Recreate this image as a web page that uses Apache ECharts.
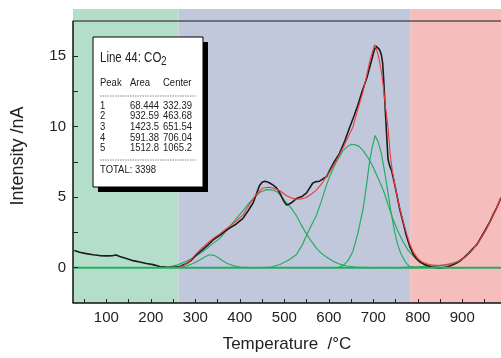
<!DOCTYPE html>
<html><head><meta charset="utf-8">
<script src="https://cdn.jsdelivr.net/npm/echarts@6/dist/echarts.min.js"></script>
<style>html,body{margin:0;padding:0;background:#fff}#c{width:501px;height:358px}</style>
</head><body><div id="c"></div>
<script>
// ---- axis / tick values ----
const xRange = [25, 987];
const yRange = [-2.5, 18.33];
const xLabelValues = [100, 200, 300, 400, 500, 600, 700, 800, 900];
const xTickValues = [50, 100, 150, 200, 250, 300, 350, 400, 450, 500, 550, 600, 650, 700, 750, 800, 850, 900, 950];
const yLabelValues = [0, 5, 10, 15];
const yTickValues = [0, 2.5, 5, 7.5, 10, 12.5, 15];
const frameTop = 17.5;
// temperature regions (green / blue / red backgrounds)
const regionEdges = [25, 262, 783, 987];

// ---- measured signal (black) ----
const measured = [
 [28,1.22],[40,1.1],[55,1.0],[70,0.92],[85,0.86],[100,0.84],[115,0.86],[122,0.9],[130,0.8],[145,0.65],
 [160,0.5],[175,0.4],[190,0.3],[205,0.22],[220,0.09],[235,0.04],[250,0.03],[265,0.08],[280,0.3],[290,0.5],
 [302,0.9],[315,1.25],[328,1.6],[340,1.97],[355,2.3],[367,2.6],[377,2.8],[392,3.1],[407,3.5],[418,4.0],
 [430,4.6],[438,5.3],[444,5.8],[450,6.05],[456,6.13],[462,6.08],[467,6.0],[475,5.85],[482,5.67],[488,5.4],
 [493,5.1],[499,4.7],[505,4.44],[510,4.5],[516,4.6],[527,4.9],[540,5.05],[550,5.3],[558,5.7],[564,6.0],
 [572,6.1],[579,6.13],[587,6.3],[595,6.45],[602,6.9],[612,7.5],[624,8.1],[636,9.0],[647,9.95],[656,10.7],
 [665,11.5],[675,12.5],[685,13.4],[691,14.1],[697,14.8],[702,15.4],[706,15.7],[710,15.65],[714,15.45],[718,15.1],
 [721,14.5],[723,13.5],[725,12.3],[727,11.1],[729,9.95],[731,8.8],[733,7.7],[737,7.2],[741,6.9],[746,6.2],
 [752,5.3],[759,4.2],[767,3.2],[774,2.3],[782,1.5],[790,0.95],[797,0.65],[805,0.4],[815,0.22],[825,0.1],
 [835,0.03],[845,-0.03],[855,-0.02],[865,0.05],[875,0.15],[885,0.3],[895,0.48],[905,0.75],[915,1.05],[925,1.4],
 [933,1.65],[945,2.3],[955,2.85],[962,3.25],[970,3.8],[978,4.3],[987,4.95]
];

// ---- fitted envelope (red) ----
const fitted = [
 [262,0.02],[275,0.2],[290,0.55],[302,1.0],[315,1.4],[328,1.75],[340,2.08],[355,2.4],[367,2.7],[377,2.95],
 [392,3.3],[407,3.75],[422,4.5],[437,5.2],[452,5.65],[465,5.7],[475,5.65],[490,5.45],[505,5.1],[515,4.95],
 [527,4.86],[540,4.88],[549,4.97],[560,5.2],[572,5.5],[585,6.0],[595,6.5],[602,6.8],[617,7.6],[632,8.5],
 [647,9.5],[654,9.95],[665,11.2],[677,12.5],[685,13.6],[691,14.5],[697,15.2],[703,15.8],[708,15.4],[713,14.8],
 [718,13.9],[722,12.96],[727,11.5],[733,9.95],[738,8.0],[743,6.8],[750,5.6],[759,4.3],[767,3.3],[775,2.4],
 [782,1.7],[790,1.1],[800,0.65],[810,0.4],[820,0.28],[835,0.18],[850,0.15],[865,0.2],[880,0.3],[895,0.5],
 [910,0.85],[925,1.35],[940,2.0],[955,2.8],[970,3.75],[987,4.95]
];

// ---- fitted peaks (green) ----
const peak1 = [[245,0],[262,0.02],[280,0.12],[295,0.3],[310,0.55],[322,0.78],[332,0.92],[342,0.88],[352,0.7],[362,0.48],[372,0.3],[385,0.15],[400,0.05],[420,0.01],[440,0]];
const peak2 = [[240,0.05],[260,0.2],[280,0.46],[300,0.8],[317,1.15],[335,1.6],[355,2.08],[372,2.7],[392,3.47],[410,4.15],[420,4.55],[430,4.9],[445,5.35],[460,5.53],[475,5.5],[485,5.35],[497,4.9],[505,4.6],[516,4.2],[527,3.7],[538,3.05],[549,2.43],[560,1.9],[572,1.39],[584,1.0],[595,0.75],[610,0.45],[625,0.25],[640,0.12],[660,0.05],[690,0.01],[710,0]];
const peak3 = [[450,0],[470,0.05],[490,0.23],[510,0.55],[527,0.92],[540,1.6],[550,2.3],[560,2.95],[572,3.7],[583,4.7],[594,5.78],[602,6.48],[617,7.5],[632,8.3],[642,8.6],[652,8.75],[660,8.7],[668,8.6],[677,8.3],[688,7.8],[699,7.17],[710,6.4],[722,5.53],[733,4.5],[744,3.45],[755,2.6],[767,1.83],[778,1.25],[789,0.85],[800,0.5],[815,0.25],[830,0.12],[850,0.05],[880,0.01],[900,0]];
const peak4 = [[610,0],[620,0.01],[632,0.15],[643,0.5],[654,1.15],[665,2.4],[677,4.16],[685,5.9],[692,7.6],[698,8.6],[704,9.37],[711,8.9],[718,8.1],[726,6.7],[733,5.3],[740,3.9],[748,2.54],[755,1.6],[763,0.92],[772,0.4],[781,0.1],[790,0.02],[800,0]];
const peak5 = [[740,0],[760,0.01],[780,0.04],[800,0.07],[820,0.1],[840,0.13],[860,0.2],[875,0.3],[890,0.45],[905,0.72],[920,1.15],[935,1.75],[950,2.5],[965,3.45],[978,4.3],[987,4.95]];
const baseline = [[25,0],[987,0]];

// ---- inset table ----
const insetTitle = 'Line 44: CO';
const insetSub = '2';
const tableHeader = ['Peak', 'Area', 'Center'];
const peakIds = ['1', '2', '3', '4', '5'];
const peakAreas = ['68.444', '932.59', '1423.5', '591.38', '1512.8'];
const peakCenters = ['332.39', '463.68', '651.54', '706.04', '1065.2'];
const totalText = 'TOTAL: 3398';

const xName = 'Temperature  /°C';
const yName = 'Intensity /nA';

const FONT = 'Liberation Sans, Arial, Helvetica, sans-serif';
const GREEN = '#27ab62';
const regionColors = ['#b3dfca', '#c2c8dc', '#f6bdbd'];

const chart = echarts.init(document.getElementById('c'), null, {renderer: 'canvas'});

const markAreaData = [];
for (let i = 0; i < regionEdges.length - 1; i++) {
  markAreaData.push([{xAxis: regionEdges[i], itemStyle: {color: regionColors[i]}}, {xAxis: regionEdges[i + 1]}]);
}

function lineSeries(data, color, width, z) {
  return {type: 'line', data: data, showSymbol: false, symbol: 'none', smooth: false, silent: true, z: z,
    lineStyle: {color: color, width: width}};
}

// inset graphic
const gx = 93, gy = 37, gw = 110, gh = 150;
const TF = '9.5px ' + FONT;
const SY = 1.22;
function txt(x, y, t, font) {
  return {type: 'text', x: x, y: y, scaleY: SY, style: {text: t, font: font, fill: '#222', verticalAlign: 'middle'}, z: 102};
}
const graphics = [
  {type: 'rect', shape: {x: gx + 5, y: gy + 5, width: gw, height: gh}, style: {fill: '#000'}, z: 100},
  {type: 'rect', shape: {x: gx, y: gy, width: gw, height: gh}, style: {fill: '#fff', stroke: '#000', lineWidth: 1}, z: 101},
  txt(100, 58, insetTitle, '11.5px ' + FONT),
  txt(161, 62, insetSub, '10px ' + FONT),
  {type: 'line', shape: {x1: 100, y1: 96, x2: 196, y2: 96}, style: {stroke: '#666', lineWidth: 0.8, lineDash: [1.5, 1]}, z: 102},
  {type: 'line', shape: {x1: 100, y1: 160, x2: 196, y2: 160}, style: {stroke: '#666', lineWidth: 0.8, lineDash: [1.5, 1]}, z: 102},
  txt(100, 170, totalText, TF)
];
const colX = [100, 130, 163];
tableHeader.forEach((h, i) => graphics.push(txt(colX[i], 83, h, TF)));
peakIds.forEach((p, r) => {
  const y = 105.5 + r * 10.6;
  [p, peakAreas[r], peakCenters[r]].forEach((t, i) => graphics.push(txt(colX[i], y, t, TF)));
});

const option = {
  animation: false,
  backgroundColor: '#fff',
  grid: {left: 73, right: 0, top: 9, bottom: 49, containLabel: false},
  xAxis: {
    type: 'value', min: xRange[0], max: xRange[1], z: 20,
    name: xName, nameLocation: 'middle', nameGap: 33,
    nameTextStyle: {fontSize: 17, color: '#222', fontFamily: FONT},
    axisLine: {show: true, onZero: false, lineStyle: {color: '#111', width: 1.5}},
    axisTick: {show: true, inside: true, length: 4, customValues: xTickValues, lineStyle: {color: '#222', width: 1}},
    axisLabel: {show: true, customValues: xLabelValues, fontSize: 15, color: '#222', fontFamily: FONT, margin: 7},
    splitLine: {show: false}
  },
  yAxis: {
    type: 'value', min: yRange[0], max: yRange[1], z: 20,
    name: yName, nameLocation: 'middle', nameGap: 46, nameRotate: 90,
    nameTextStyle: {fontSize: 18, color: '#222', fontFamily: FONT},
    axisLine: {show: false, onZero: false},
    axisTick: {show: true, inside: true, length: 5, customValues: yTickValues, lineStyle: {color: '#222', width: 1}},
    axisLabel: {show: true, customValues: yLabelValues, fontSize: 15, color: '#222', fontFamily: FONT, margin: 7},
    splitLine: {show: false}
  },
  graphic: graphics,
  series: [
    {type: 'line', data: baseline, showSymbol: false, symbol: 'none', silent: true, z: 1, clip: false,
      lineStyle: {width: 0, opacity: 0},
      markArea: {silent: true, data: markAreaData},
      markLine: {silent: true, symbol: 'none', label: {show: false},
        data: [
          [{coord: [xRange[0], frameTop], lineStyle: {color: '#555', width: 1.5, type: 'solid'}}, {coord: [xRange[1], frameTop]}],
          [{coord: [xRange[0], yRange[0]], lineStyle: {color: '#111', width: 1.5, type: 'solid'}}, {coord: [xRange[0], frameTop]}]
        ]}
    },
    lineSeries(peak1, GREEN, 1.2, 3),
    lineSeries(peak2, GREEN, 1.2, 3),
    lineSeries(peak3, GREEN, 1.2, 3),
    lineSeries(peak4, GREEN, 1.2, 3),
    lineSeries(peak5, GREEN, 1.2, 3),
    lineSeries(measured, '#1b1b1b', 1.6, 4),
    lineSeries(fitted, '#ec3b3b', 1.1, 5),
    lineSeries(baseline, GREEN, 2, 6)
  ]
};
chart.setOption(option);
</script>
</body></html>
